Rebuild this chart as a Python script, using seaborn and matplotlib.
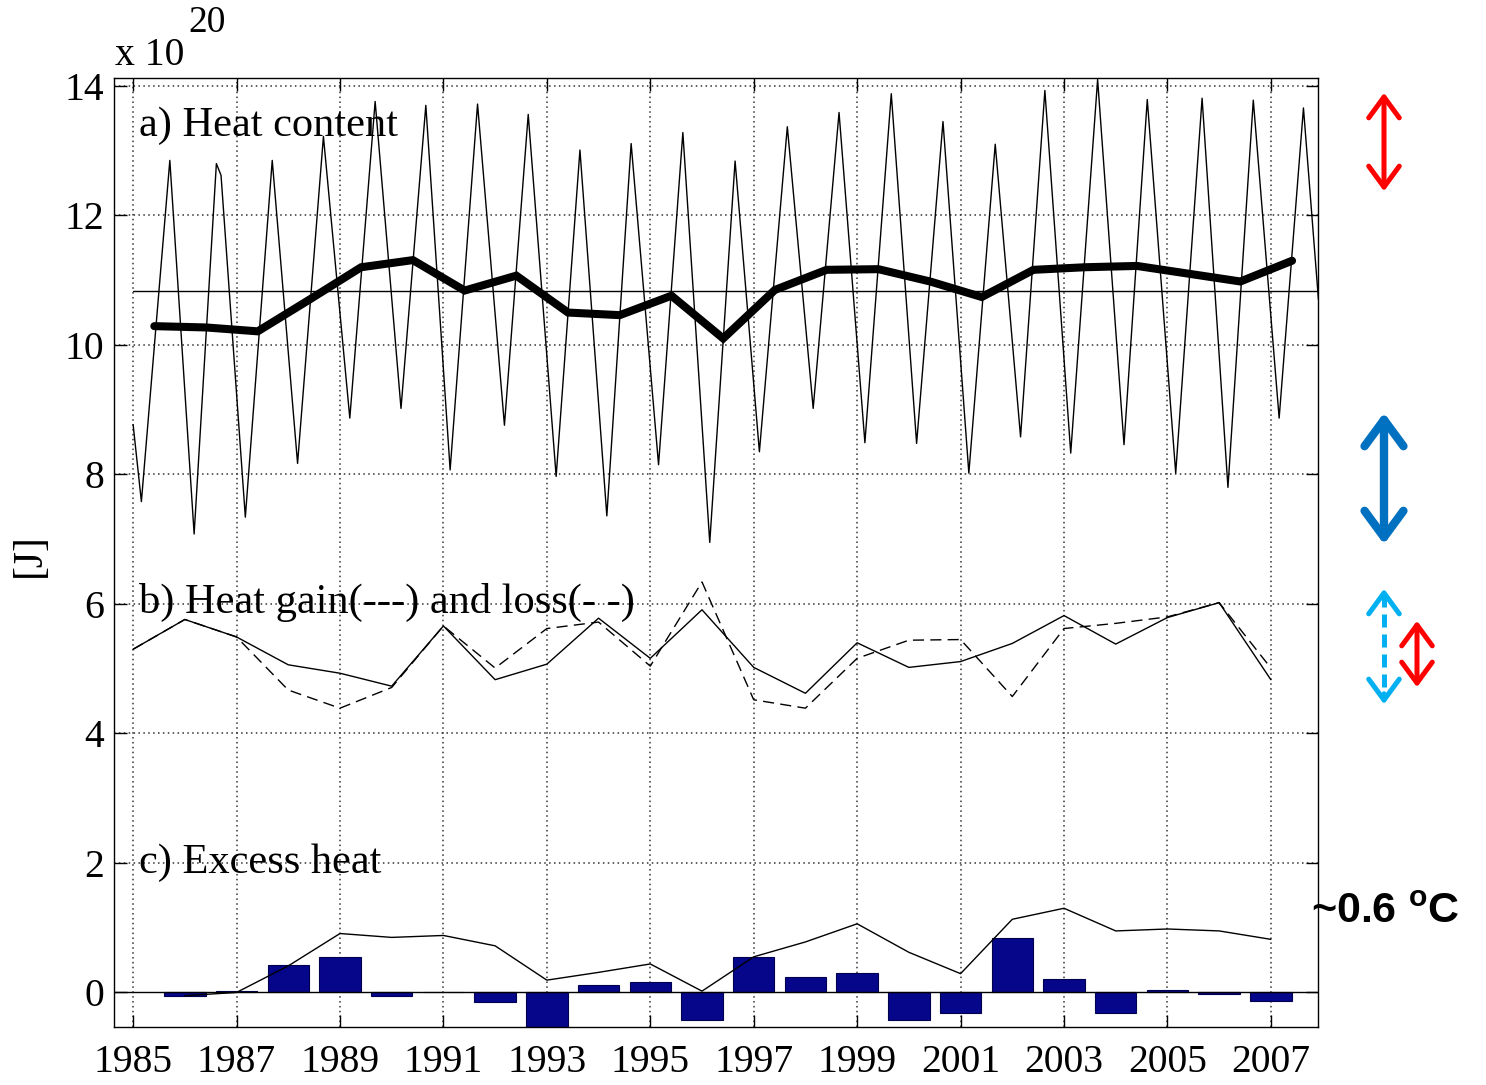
import numpy as np
import pandas as pd
import seaborn as sns
import matplotlib.pyplot as plt
from matplotlib.patches import FancyArrowPatch
from matplotlib.lines import Line2D

# a) heat content, seasonal cycle (turning points), units of 1e20 J
hc_time = [1985.00, 1985.16, 1985.71, 1986.18, 1986.61, 1986.70, 1987.17, 1987.69,
           1988.18, 1988.68, 1989.19, 1989.68, 1990.18, 1990.66, 1991.13, 1991.66,
           1992.18, 1992.64, 1993.18, 1993.64, 1994.16, 1994.63, 1995.16, 1995.63,
           1996.15, 1996.64, 1997.11, 1997.65, 1998.15, 1998.65, 1999.15, 1999.66,
           2000.15, 2000.66, 2001.16, 2001.67, 2002.16, 2002.63, 2003.13, 2003.65,
           2004.16, 2004.61, 2005.16, 2005.67, 2006.17, 2006.66, 2007.16, 2007.63,
           2007.92]
hc_value = [8.77, 7.58, 12.85, 7.08, 12.80, 12.62, 7.34, 12.85,
            8.17, 13.22, 8.87, 13.76, 9.02, 13.70, 8.07, 13.72,
            8.76, 13.56, 7.97, 13.01, 7.36, 13.11, 8.15, 13.28,
            6.95, 12.84, 8.35, 13.37, 9.02, 13.59, 8.49, 13.88,
            8.48, 13.45, 8.02, 13.10, 8.58, 13.93, 8.33, 14.10,
            8.46, 13.79, 8.02, 13.81, 7.80, 13.78, 8.87, 13.66,
            10.70]

years = np.arange(1985, 2008)
hc_annual = [10.29, 10.27, 10.21, 10.70, 11.20, 11.31, 10.84, 11.07, 10.50, 10.46,
             10.76, 10.10, 10.85, 11.16, 11.17, 10.98, 10.74, 11.16, 11.20, 11.22,
             11.10, 10.98, 11.30]
hc_mean_level = 10.84

# b) heat gain (solid) and loss (dashed)
heat_gain = [5.30, 5.76, 5.49, 5.06, 4.93, 4.73, 5.66, 4.83, 5.07, 5.78, 5.16, 5.91,
             5.02, 4.62, 5.40, 5.02, 5.11, 5.39, 5.82, 5.38, 5.79, 6.02, 4.83]
heat_loss = [5.30, 5.76, 5.49, 4.67, 4.39, 4.71, 5.66, 5.01, 5.62, 5.72, 5.04, 6.34,
             4.52, 4.39, 5.16, 5.44, 5.45, 4.57, 5.62, 5.70, 5.80, 6.02, 5.01]

# c) excess heat (bars) and its running total (line)
excess_years = np.arange(1986, 2008)
excess_heat = [-0.05, 0.02, 0.42, 0.55, -0.05, 0.0, -0.15, -0.55, 0.12, 0.16, -0.42,
               0.54, 0.24, 0.30, -0.42, -0.32, 0.84, 0.20, -0.32, 0.03, -0.02, -0.13]
excess_total = [-0.05, 0.00, 0.41, 0.91, 0.85, 0.88, 0.72, 0.19, 0.31, 0.44, 0.02,
                0.55, 0.78, 1.06, 0.62, 0.29, 1.13, 1.30, 0.95, 0.98, 0.95, 0.82]

xtick_years = np.arange(1985, 2008, 2)
yticks = np.arange(0, 15, 2)

sns.set_style("ticks")
plt.rcParams['font.family'] = ['Liberation Serif', 'DejaVu Serif']
plt.rcParams['text.color'] = 'black'
plt.rcParams['mathtext.fontset'] = 'custom'
plt.rcParams['mathtext.bf'] = 'Liberation Sans:bold'

fig = plt.figure(figsize=(14.86, 10.85), dpi=100)
ax = fig.add_axes([0.0767, 0.0535, 0.8102, 0.8747])

# grid first (dotted, MATLAB style)
for yr in xtick_years:
    ax.axvline(yr, color='0.2', lw=1.1, ls=(0, (1, 2.2)), zorder=0)
for yv in yticks[1:]:
    ax.axhline(yv, color='0.2', lw=1.1, ls=(0, (1, 2.2)), zorder=0)

# panel c bars
sns.barplot(x=excess_years, y=excess_heat, native_scale=True, orient='x', ax=ax,
            color='#06068A', saturation=1, width=0.8, errorbar=None,
            edgecolor='#000050', linewidth=0.8, zorder=2)
ax.axhline(0, color='black', lw=1.0, zorder=3)
sns.lineplot(x=excess_years, y=excess_total, ax=ax, color='black', lw=1.0, zorder=3)

# panel b
sns.lineplot(x=years, y=heat_gain, ax=ax, color='black', lw=1.0, zorder=3)
sns.lineplot(x=years, y=heat_loss, ax=ax, color='black', lw=1.0,
             linestyle=(0, (8, 4.5)), zorder=3)

# panel a
sns.lineplot(x=hc_time, y=hc_value, ax=ax, color='black', lw=1.0, zorder=3)
sns.lineplot(x=[years[0], 2008.5], y=[hc_mean_level, hc_mean_level], ax=ax,
             color='black', lw=1.0, zorder=3)
sns.lineplot(x=years + 0.41, y=hc_annual, ax=ax, color='black', lw=5.8,
             zorder=4, solid_joinstyle='miter')

ax.set_xlim(1984.63, 2007.91)
ax.set_ylim(-0.533, 14.124)
ax.set_xticks(xtick_years)
ax.set_xticklabels([str(y) for y in xtick_years])
ax.set_yticks(yticks)
ax.set_yticklabels([str(v) for v in yticks])
ax.set_xlabel('')
ax.set_ylabel('')
ax.tick_params(axis='both', direction='in', length=9, width=1.0, labelsize=28.5,
               top=True, right=True, colors='black')
ax.tick_params(axis='x', pad=12)
ax.tick_params(axis='y', pad=7)
for sp in ax.spines.values():
    sp.set_visible(True)
    sp.set_linewidth(1.0)
    sp.set_color('black')

txt_kw = dict(fontsize=30.5, color='black', ha='left', va='baseline', zorder=5)
ax.text(1985.12, 13.22, 'a) Heat content', **txt_kw)
ax.text(1985.12, 5.86, 'b) Heat gain(---) and loss(- -)', **txt_kw)
ax.text(1985.12, 1.84, 'c) Excess heat', **txt_kw)

# exponent label and unit
fig.text(0.0774, 0.940, 'x 10', fontsize=28.5, ha='left', va='baseline', color='black')
fig.text(0.1265, 0.9705, '20', fontsize=27, ha='left', va='baseline', color='black')
fig.text(0.0202, 0.4885, '[J]', fontsize=30, rotation=90, ha='center', va='center',
         color='black')

fig.text(0.8822, 0.1594, r'~0.6 $^{\mathbf{o}}$C', fontsize=31, fontweight='bold',
         family='Liberation Sans', ha='left', va='center', color='black')

# side arrows (figure pixel positions converted to fractions)
W, H = 1486.0, 1085.0


def fig_arrow(x, y0, y1, color, lw, hl, hw, style='<->'):
    a = FancyArrowPatch((x / W, 1 - y0 / H), (x / W, 1 - y1 / H),
                        transform=fig.transFigure, arrowstyle=style,
                        mutation_scale=20, color=color, lw=lw,
                        capstyle='round', joinstyle='round')
    a.set_arrowstyle(style, head_length=hl, head_width=hw)
    fig.add_artist(a)


fig_arrow(1384, 90, 194, '#FF0000', 3.6, 0.75, 0.55)
fig_arrow(1384, 410, 547, '#0070C0', 6.0, 0.95, 0.7)
fig_arrow(1417, 618, 690, '#FF0000', 3.6, 0.75, 0.55)
# dashed cyan: dashed shaft with solid heads
fig.add_artist(Line2D([1384 / W, 1384 / W], [1 - 594 / H, 1 - 698 / H],
                      transform=fig.transFigure, color='#00B0F0', lw=3.6,
                      linestyle=(0, (2.6, 1.4))))
fig_arrow(1384, 586, 602, '#00B0F0', 3.6, 0.75, 0.55, style='<-')
fig_arrow(1384, 691, 707, '#00B0F0', 3.6, 0.75, 0.55, style='->')

fig.savefig('out.png', dpi=100)
